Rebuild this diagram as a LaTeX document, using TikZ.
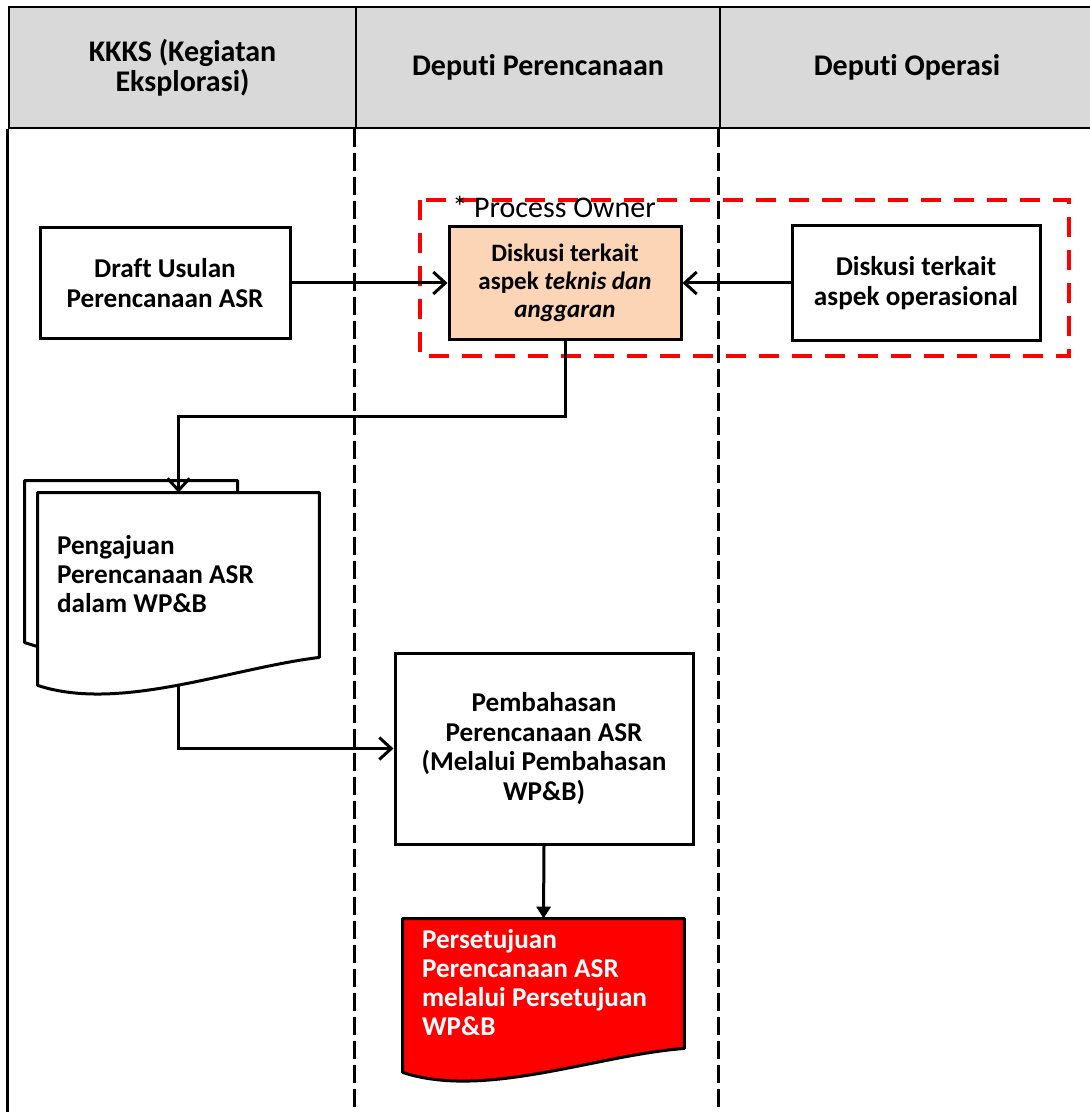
\documentclass[tikz,border=0pt]{standalone}
\usepackage{fontspec}
\setmainfont{Carlito}[RawFeature={-liga;-clig;-calt;-dlig}]
\usetikzlibrary{calc,arrows.meta}
\definecolor{headgray}{HTML}{D9D9D9}
\definecolor{peach}{HTML}{FBD5B5}
\definecolor{ownerred}{HTML}{FF0000}
% outline of a document shape laid over a node (#2 = rise of the right corner)
\newcommand{\docpath}[2]{(#1.north west) -- (#1.north east) -- ($(#1.south east)+(0,-#2)$) .. controls ($(#1.south west)+(192,-17)$) and ($(#1.south west)+(82,27)$) .. (#1.south west) -- cycle}

\begin{document}
\begin{tikzpicture}[x=0.5pt, y=-0.5pt,
    header/.style={draw, fill=headgray, line width=1.3pt, inner sep=0pt,
      minimum height=60.5pt, align=center,
      font=\bfseries\fontsize{15}{15}\selectfont},
    lane/.style={line width=1.3pt, dash pattern=on 9pt off 3pt},
    border/.style={line width=1.3pt},
    box/.style={draw, line width=1.5pt, fill=white, inner sep=0pt,
      align=center, font=\bfseries\fontsize{13.6}{15}\selectfont},
    docbox/.style={inner sep=0pt, minimum width=140.5pt},
    doctext/.style={anchor=north west, inner sep=0pt, align=left,
      font=\bfseries\fontsize{13.6}{14.6}\selectfont},
    docline/.style={line width=1.5pt, line join=round},
    owner/.style={draw=ownerred, line width=2pt, dash pattern=on 10pt off 6.5pt},
    arr/.style={line width=1.5pt, -{Straight Barb[length=6pt,width=11pt,line width=1.5pt]}},
    arrfill/.style={line width=1.5pt, -{Triangle[length=6pt,width=7pt]}}]
  \useasboundingbox (0,0) rectangle (1090,1112);
  \clip (0,0) rectangle (1090,1112);

  % Lanes: header cells
  \node (hKKKS) [header, minimum width=173.5pt] at (182.5,67.5)
  {KKKS (Kegiatan\\Eksplorasi)};
  \node (hPerencanaan) [header, minimum width=182pt] at (538,67.5)
  {Deputi Perencanaan};
  \node (hOperasi) [header, minimum width=187pt] at (907,67.5)
  {Deputi Operasi};

  % Lanes: borders
  \draw [border] (hKKKS.south west) -- ++(0,990);
  \draw [lane] (hPerencanaan.south west) -- ++(0,990);
  \draw [lane] (hOperasi.south west) -- ++(0,990);

  % Process owner group
  \draw [owner] (420,200) rectangle (1069,356);
  \node (ownerLabel) [anchor=base west, inner sep=0pt,
    font=\fontsize{15}{15}\selectfont] at (452,218) {* Process Owner};

  % Process boxes
  \node (draft) [box, minimum width=125pt, minimum height=55pt]
  at (165,283) {Draft Usulan\\Perencanaan ASR};
  \node (diskusi) [box, fill=peach, minimum width=116pt, minimum height=56pt,
    font=\bfseries\fontsize{12.5}{14}\selectfont]
  at (565,283) {Diskusi terkait\\aspek \textit{teknis dan}\\\textit{anggaran}};
  \node (operasional) [box, minimum width=124pt, minimum height=57pt]
  at (916,283) {Diskusi terkait\\aspek operasional};
  \node (pembahasan) [box, minimum width=149pt, minimum height=95.5pt,
    font=\bfseries\fontsize{13.6}{14.8}\selectfont]
  at (544,748.5) {Pembahasan\\Perencanaan ASR\\(Melalui Pembahasan\\WP\&B)};

  % Documents
  \node (pengajuan) [docbox, minimum height=96pt] at (178.5,589) {};
  \draw [docline, fill=white] ($(pengajuan.north west)+(0,154)$) -- ++(-13,-4)
    |- ($(pengajuan.north west)+(200,-12)$) -- ++(0,12);
  \draw [docline, fill=white] \docpath{pengajuan}{28};
  \node [doctext] at ($(pengajuan.north west)+(19,42)$)
  {Pengajuan\\Perencanaan ASR\\dalam WP\&B};

  \node (persetujuan) [docbox, minimum height=76.5pt] at (543.5,995.5) {};
  \draw [docline, fill=ownerred] \docpath{persetujuan}{24};
  \node [doctext, text=white] at ($(persetujuan.north west)+(19,10)$)
  {Persetujuan\\Perencanaan ASR\\melalui Persetujuan\\WP\&B};

  % Connections
  \draw [arr] (draft.east) -- (draft.east -| diskusi.west);
  \draw [arr] (operasional.west) -- (operasional.west -| diskusi.east);
  \draw [arr] (diskusi.south) -- ++(0,76) -| (pengajuan.north);
  \draw [arr] (pengajuan.south) |- (pembahasan.west);
  \draw [arrfill] (pembahasan.south) -- (persetujuan.north);
\end{tikzpicture}
\end{document}
